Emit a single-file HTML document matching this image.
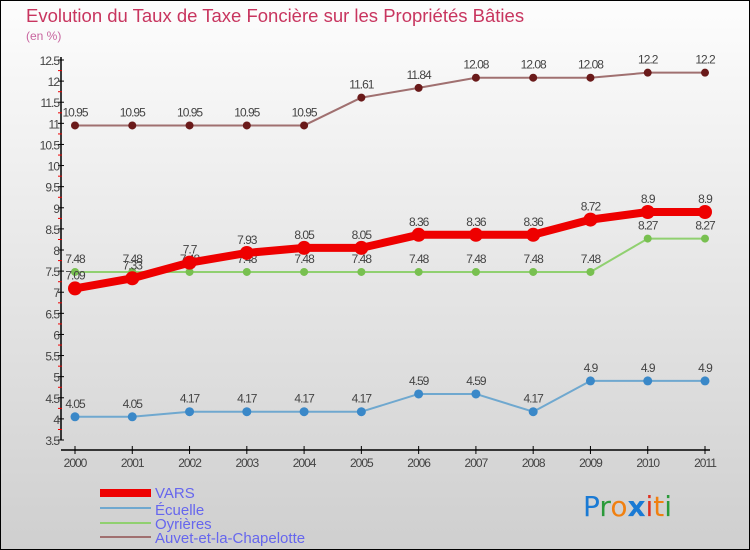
<!DOCTYPE html>
<html><head><meta charset="utf-8"><style>
body{margin:0;width:750px;height:550px;overflow:hidden;font-family:"Liberation Sans",sans-serif}
svg{display:block}
</style></head><body>
<svg id="c" width="750" height="550" viewBox="0 0 750 550">
<defs><linearGradient id="bg" x1="0" y1="0" x2="0" y2="1"><stop offset="0" stop-color="#fdfdfd"/><stop offset="1" stop-color="#cfcfcf"/></linearGradient></defs>
<rect x="0.5" y="0.5" width="749" height="549" fill="url(#bg)" stroke="#000"/>
<text x="26" y="22" font-size="18.5" fill="#c8355f">Evolution du Taux de Taxe Foncière sur les Propriétés Bâties</text>
<text x="26" y="40" font-size="12" fill="#c8659f">(en %)</text>
<g id="axes"></g><g id="series"></g>
<g>
<rect x="100" y="489" width="51" height="8" fill="#e00"/>
<text x="155" y="498" font-size="15" fill="#6666ee">VARS</text>
<rect x="100" y="507" width="51" height="2" fill="#6fa8cf"/>
<text x="155" y="515" font-size="15" fill="#6666ee">Écuelle</text>
<rect x="100" y="522" width="51" height="2" fill="#90d070"/>
<text x="155" y="529" font-size="15" fill="#6666ee">Oyrières</text>
<rect x="100" y="536" width="51" height="2" fill="#a07070"/>
<text x="155" y="543" font-size="15" fill="#6666ee">Auvet-et-la-Chapelotte</text>
</g>
<g font-size="28" font-family="'DejaVu Sans',sans-serif">
<text x="583" y="516"><tspan fill="#1a7ad4">P</tspan><tspan fill="#2a9a3a">r</tspan><tspan fill="#f08010">o</tspan><tspan fill="#1a7ad4" font-weight="bold">x</tspan><tspan fill="#e03020">i</tspan><tspan fill="#f08010">t</tspan><tspan fill="#2a9a3a">i</tspan></text>
</g>
</svg>
<script>
const years=["2000","2001","2002","2003","2004","2005","2006","2007","2008","2009","2010","2011"];
const yTicks=[3.5,4,4.5,5,5.5,6,6.5,7,7.5,8,8.5,9,9.5,10,10.5,11,11.5,12,12.5];
const vars=[7.09,7.33,7.7,7.93,8.05,8.05,8.36,8.36,8.36,8.72,8.9,8.9];
const ecuelle=[4.05,4.05,4.17,4.17,4.17,4.17,4.59,4.59,4.17,4.9,4.9,4.9];
const oyrieres=[7.48,7.48,7.48,7.48,7.48,7.48,7.48,7.48,7.48,7.48,8.27,8.27];
const auvet=[10.95,10.95,10.95,10.95,10.95,11.61,11.84,12.08,12.08,12.08,12.2,12.2];
const labVars=["7.09","7.33","7.7","7.93","8.05","8.05","8.36","8.36","8.36","8.72","8.9","8.9"];
const labEc=["4.05","4.05","4.17","4.17","4.17","4.17","4.59","4.59","4.17","4.9","4.9","4.9"];
const labOy=["7.48","7.48","7.48","7.48","7.48","7.48","7.48","7.48","7.48","7.48","8.27","8.27"];
const labAu=["10.95","10.95","10.95","10.95","10.95","11.61","11.84","12.08","12.08","12.08","12.2","12.2"];
const NS="http://www.w3.org/2000/svg";
const X=i=>75+i*(630/11);
const Y=v=>60+(12.5-v)*(380/9);
function mk(t,a,p){const e=document.createElementNS(NS,t);for(const k in a)e.setAttribute(k,a[k]);p.appendChild(e);return e;}
const ax=document.getElementById('axes');
const yl=mk('line',{x1:61,y1:57,x2:61,y2:440,stroke:'#000','stroke-width':1.5},ax);


const xl=mk('line',{x1:61,y1:450,x2:710,y2:450,stroke:'#000','stroke-width':1.5},ax);


yTicks.forEach(v=>{const y=Y(v);
mk('line',{x1:58,y1:y,x2:64,y2:y,stroke:'#000'},ax);
if(v<12.5)mk('line',{x1:58,y1:y-10.5,x2:62,y2:y-10.5,stroke:'#e00'},ax);
const t=mk('text',{x:59,y:y+5,'font-size':12,fill:'#444','text-anchor':'end','letter-spacing':'-1'},ax);t.textContent=String(v);

});
years.forEach((yr,i)=>{const x=X(i);
mk('line',{x1:x,y1:446,x2:x,y2:454,stroke:'#000'},ax);
const t=mk('text',{x:x,y:467,'font-size':12,fill:'#444','text-anchor':'middle','letter-spacing':'-1'},ax);t.textContent=yr;

});
const sg=document.getElementById('series');
function series(vals,labs,col,dot,w,r,name){
const g=mk('g',{},sg);


const pl=mk('polyline',{points:vals.map((v,i)=>X(i)+','+Y(v)).join(' '),fill:'none',stroke:col,'stroke-width':w,'stroke-linejoin':'round'},g);


vals.forEach((v,i)=>{const c=mk('circle',{cx:X(i),cy:Y(v),r:r,fill:dot},g);


const t=mk('text',{x:X(i),y:Y(v)-9,'font-size':12,fill:'#444','text-anchor':'middle','letter-spacing':'-1'},g);t.textContent=labs[i];

});}
series(auvet,labAu,'#a07070','#6a1a1a',2,4,'auvet');
series(ecuelle,labEc,'#6fa8cf','#3a88c8',2,4.5,'ecuelle');
series(oyrieres,labOy,'#90d070','#78c050',2,4,'oyrieres');
series(vars,labVars,'#ee0000','#ee0000',8,7,'vars');
</script>
</body></html>
